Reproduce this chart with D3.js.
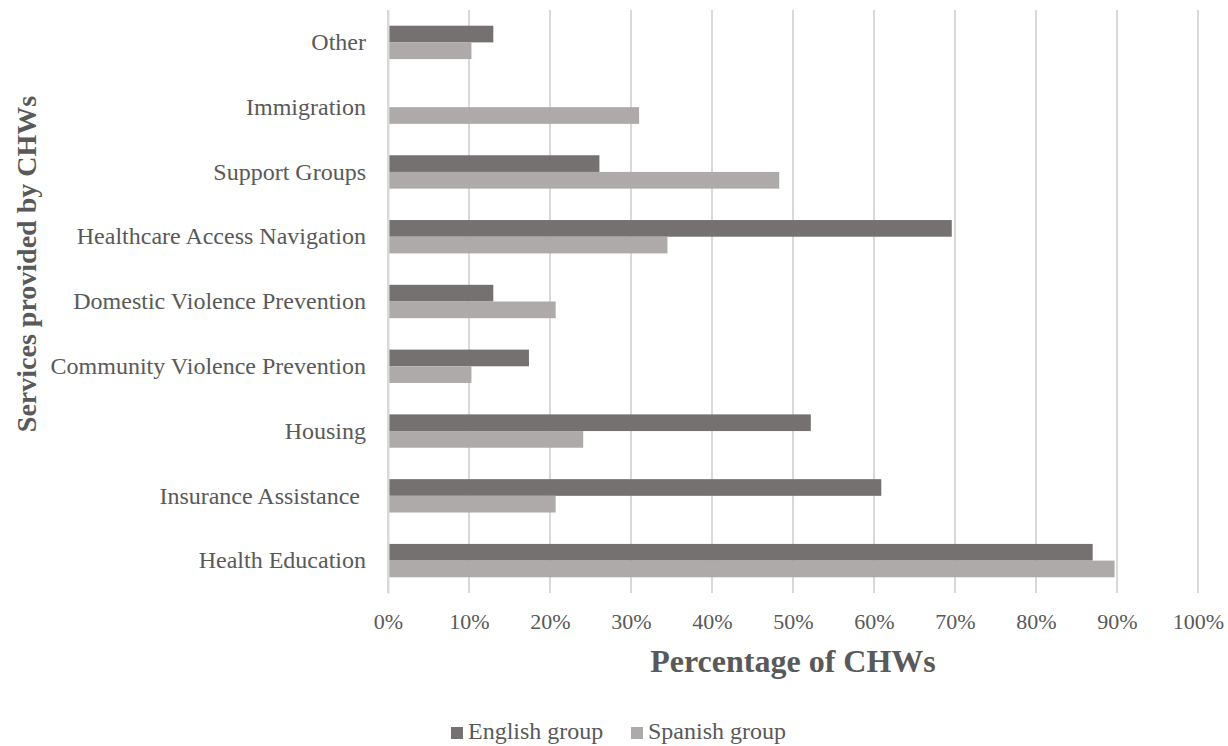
<!DOCTYPE html>
<html>
<head>
<meta charset="utf-8">
<script src="https://cdn.jsdelivr.net/npm/d3@7"></script>
<style>
  body { margin: 0; background: #fff; }
  svg { display: block; font-family: "Liberation Serif", "Times New Roman", serif; }
</style>
</head>
<body>
<svg id="chart" width="1228" height="746"></svg>
<script>
// Services offered, listed bottom-to-top as they appear on the axis
const categories = [
  "Health Education",
  "Insurance Assistance ",
  "Housing",
  "Community Violence Prevention",
  "Domestic Violence Prevention",
  "Healthcare Access Navigation",
  "Support Groups",
  "Immigration",
  "Other"
];
const seriesNames = ["English group", "Spanish group"];
const englishValues = [87.0, 60.9, 52.2, 17.4, 13.0, 69.6, 26.1, 0, 13.0];
const spanishValues = [89.7, 20.7, 24.1, 10.3, 20.7, 34.5, 48.3, 31.0, 10.3];
const xTicks = [0, 10, 20, 30, 40, 50, 60, 70, 80, 90, 100];

const colors = { "English group": "#767171", "Spanish group": "#AEAAAA" };
const textColor = "#595959";
const serif = "'Liberation Serif', 'Times New Roman', serif";

const svg = d3.select("#chart");
const margin = { top: 10, right: 30, bottom: 153, left: 388 };
const height = 746 - margin.top - margin.bottom;

const g = svg.append("g").attr("transform", `translate(${margin.left},${margin.top})`);

const x = d3.scaleLinear().domain([0, 100]).range([0, 810]);

// Top category first so that "Other" sits at the top of the plot
const y = d3.scaleBand()
  .domain(categories.slice().reverse())
  .range([0, height])
  .paddingInner(0.485)
  .paddingOuter(0.2425);

const y1 = d3.scaleBand().domain(seriesNames).range([0, y.bandwidth()]);

// Vertical gridlines
g.append("g")
  .selectAll("line")
  .data(xTicks)
  .join("line")
  .attr("x1", d => x(d))
  .attr("x2", d => x(d))
  .attr("y1", 0)
  .attr("y2", height)
  .attr("stroke", "#d9d9d9")
  .attr("stroke-width", 2);

// Rows of grouped bars
const rows = categories.map((c, i) => ({
  category: c,
  values: [
    { series: "English group", value: englishValues[i] },
    { series: "Spanish group", value: spanishValues[i] }
  ]
}));

const groups = g.append("g")
  .selectAll("g")
  .data(rows)
  .join("g")
  .attr("transform", d => `translate(0,${y(d.category)})`);

groups.selectAll("rect")
  .data(d => d.values.filter(v => v.value > 0))
  .join("rect")
  .attr("x", x(0))
  .attr("y", d => y1(d.series))
  .attr("width", d => x(d.value) - x(0))
  .attr("height", y1.bandwidth())
  .attr("fill", d => colors[d.series]);

// Category axis
const yAxis = g.append("g").call(d3.axisLeft(y).tickSize(0).tickPadding(22));
yAxis.select(".domain").attr("stroke", "#d9d9d9").attr("stroke-width", 2);
yAxis.selectAll("text")
  .attr("fill", textColor)
  .style("white-space", "pre")
  .style("font-size", "24px")
  .style("font-family", serif);

// Percentage axis
const xAxis = g.append("g")
  .attr("transform", `translate(0,${height})`)
  .call(d3.axisBottom(x).tickValues(xTicks).tickFormat(d => d + "%").tickSize(0).tickPadding(20));
xAxis.select(".domain").remove();
xAxis.selectAll("text")
  .attr("fill", textColor)
  .style("font-size", "22px")
  .style("font-family", serif);

// Axis titles
svg.append("text")
  .attr("x", margin.left + x(50))
  .attr("y", 672)
  .attr("text-anchor", "middle")
  .attr("fill", textColor)
  .style("font-size", "32px")
  .style("font-weight", "bold")
  .text("Percentage of CHWs");

svg.append("text")
  .attr("transform", "translate(36,264) rotate(-90)")
  .attr("text-anchor", "middle")
  .attr("fill", textColor)
  .style("font-size", "28px")
  .style("font-weight", "bold")
  .text("Services provided by CHWs");

// Legend
const legend = svg.append("g").attr("transform", "translate(451,739)");
const legendItems = legend.selectAll("g")
  .data(seriesNames)
  .join("g")
  .attr("transform", (d, i) => `translate(${i * 180},0)`);
legendItems.append("rect")
  .attr("x", 0)
  .attr("y", -12)
  .attr("width", 12)
  .attr("height", 12)
  .attr("fill", d => colors[d]);
legendItems.append("text")
  .attr("x", 17)
  .attr("y", 0)
  .attr("fill", textColor)
  .style("font-size", "24px")
  .text(d => d);
</script>
</body>
</html>
